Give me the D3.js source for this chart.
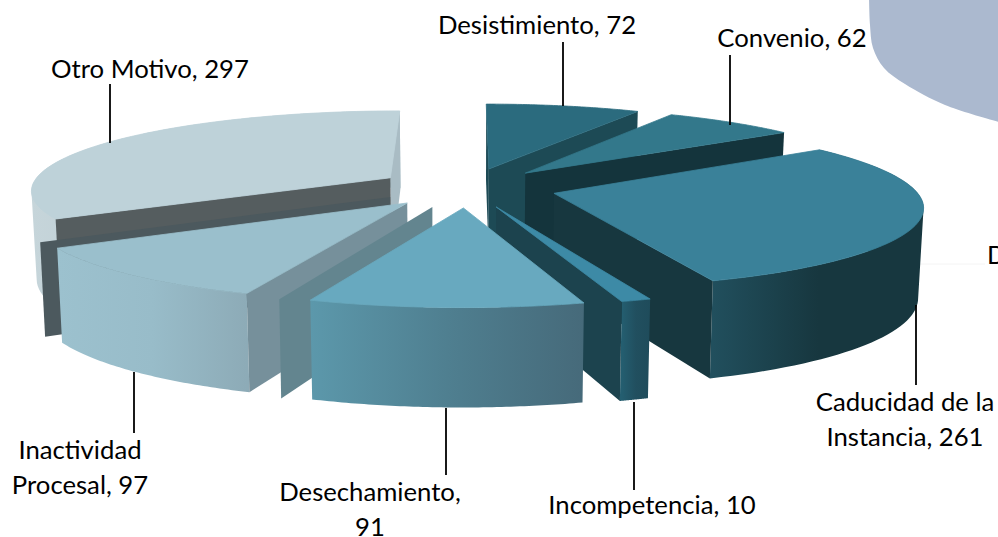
<!DOCTYPE html>
<html lang="es">
<head>
<meta charset="utf-8">
<title>Motivos</title>
<script src="https://cdn.jsdelivr.net/npm/d3@7"></script>
<style>
  html, body { margin: 0; background: #fff; overflow: hidden; }
  svg { display: block; }
  text { font-family: Lato, "Open Sans", sans-serif; font-size: 25.7px; fill: #000; }
</style>
</head>
<body>
<svg id="chart" width="998" height="537"></svg>
<script>
// valeurs
const categories = ["Desistimiento", "Convenio", "Caducidad de la Instancia", "Incompetencia", "Desechamiento", "Inactividad Procesal", "Otro Motivo"]
const values = [72, 62, 261, 10, 91, 97, 297]

// couleurs par tranche (même ordre que categories)
const topColors = ["#2b6b7e", "#33788b", "#3a8199", "#3d8aa6", "#68a9bf", "#9abfcc", "#bed2d9"]
const startWallColors = ["#1d4a55", null, null, null, null, "#76909b", "#555d5f"]
const endWallColors = ["#1d4a55", "#14343c", "#17373f", "#1c434e", "#63858f", "#4c595e", "#a9bcc4"]
const outerStops = [null, null, ["#214f5d", "#17373f", "#17373f"], ["#245e70", "#214f5f", "#1f4c5b"],
  ["#5c98ab", "#4f7f90", "#466a7a"], ["#9cc1ce", "#98bcc9", "#8dabb7"], ["#c6d5da", "#b6c9d0", "#b6c9d0"]]
// parois arrière décalées visibles dans l'original (artefact du rendu 3D)
const endWallShift = [[0, 0], [0, 0], [0, 0], [0, 0], [-31, -1], [-17, -6], [0, 0]]
const paintOrder = [0, 1, 6, 2, 3, 5, 4]

// projection du plan du camembert vers l'écran
const explode = 0.25
const persp = 0.142
const sx = d3.scaleLinear().domain([-1, 1]).range([467 - 360, 467 + 360])
const sy = d3.scaleLinear().domain([-1, 1]).range([187.5 + 79, 187.5 - 79])
const wallDrop = d3.scaleLinear().domain([-1, 1]).range([97.5, 78])
const bottomShrink = 0.988

const pie = d3.pie().sort(null).startAngle(0).endAngle(2 * Math.PI)
const arcs = pie(values)

function project(u, v) {
  const w = 1 + persp * v
  return { x: sx(u / w), y: sy(v / w), v }
}
function lower(p) {
  return [sx(0) + (p.x - sx(0)) * bottomShrink, p.y + wallDrop(p.v)]
}
const xy = (p) => [p.x, p.y]

const svg = d3.select("#chart")
const defs = svg.append("defs")
const line = d3.line()

// forme bleutée coupée dans le coin haut droit
svg.append("path")
  .attr("d", d3.line().curve(d3.curveCatmullRom)([[869, -5], [870, 25], [873, 48], [884, 68], [905, 84], [945, 105], [1003, 123]]) + "L1003,-5Z")
  .attr("fill", "#abb9cf")

// repère très pâle à droite
svg.append("line").attr("x1", 920).attr("x2", 985).attr("y1", 264).attr("y2", 264)
  .attr("stroke", "#f4f4f4")

paintOrder.forEach((i) => {
  const a = arcs[i]
  const mid = (a.startAngle + a.endAngle) / 2
  const ou = explode * Math.sin(mid)
  const ov = explode * Math.cos(mid)
  const pt = (t) => project(ou + Math.sin(t), ov + Math.cos(t))
  const apex = project(ou, ov)
  const steps = d3.range(0, 61).map((k) => a.startAngle + (a.endAngle - a.startAngle) * k / 60)
  const rim = steps.map(pt)
  const g = svg.append("g").attr("class", "slice")

  const wall = (p, color, shift = [0, 0]) => {
    const quad = [xy(apex), xy(p), lower(p), lower(apex)].map(([x, y]) => [x + shift[0], y + shift[1]])
    g.append("path").attr("d", line(quad) + "Z").attr("fill", color)
  }
  const shifted = endWallShift[i][0] !== 0

  // la paroi décalée passe derrière tout le reste de la tranche
  if (shifted) wall(pt(a.endAngle), endWallColors[i], endWallShift[i])

  // paroi extérieure : petits quads orientés pareil, sinon les zones repliées s'annulent
  if (outerStops[i]) {
    const id = `outer-${i}`
    const grad = defs.append("linearGradient").attr("id", id)
      .attr("gradientUnits", "userSpaceOnUse")
      .attr("x1", d3.min(rim, (p) => p.x)).attr("x2", d3.max(rim, (p) => p.x))
      .attr("y1", 0).attr("y2", 0)
    outerStops[i].forEach((c, k) => grad.append("stop").attr("offset", k / 2).attr("stop-color", c))
    const d = d3.pairs(rim).map(([p, q]) => {
      const quad = [xy(p), xy(q), lower(q), lower(p)]
      if (d3.polygonArea(quad) < 0) quad.reverse()
      return line(quad) + "Z"
    }).join("")
    g.append("path").attr("d", d).attr("fill", `url(#${id})`)
  }
  if (!shifted) wall(pt(a.endAngle), endWallColors[i])
  if (startWallColors[i]) wall(pt(a.startAngle), startWallColors[i])

  // le trait de même couleur évite un liseré entre le dessus et les parois
  g.append("path")
    .attr("d", line([xy(apex)].concat(rim.map(xy))) + "Z")
    .attr("fill", topColors[i])
    .attr("stroke", topColors[i]).attr("stroke-width", 0.8)
})

// étiquettes et traits de rappel
const labelLines = [["Desistimiento, 72"], ["Convenio, 62"], ["Caducidad de la", "Instancia, 261"], ["Incompetencia, 10"], ["Desechamiento,", "91"], ["Inactividad", "Procesal, 97"], ["Otro Motivo, 297"]]
const labelX = [537, 792, 905, 652, 370, 80, 150]
const labelY = [34, 47, 411, 514, 501, 459, 78]
const leaderX = [563, 730, 916, 634, 446, 134, 110]
const leaderY = [[42, 106], [55, 125], [305, 385], [402, 490], [408, 475], [372, 433], [84, 143]]

leaderX.forEach((x, i) => {
  svg.append("line").attr("x1", x).attr("x2", x)
    .attr("y1", leaderY[i][0]).attr("y2", leaderY[i][1])
    .attr("stroke", "#000").attr("stroke-width", 1.8)
})
labelLines.forEach((lines, i) => {
  lines.forEach((t, k) => {
    svg.append("text").attr("x", labelX[i]).attr("y", labelY[i] + k * 34.5)
      .attr("text-anchor", "middle").text(t)
  })
})
svg.append("text").attr("x", 987).attr("y", 264).text("D")
</script>
</body>
</html>
